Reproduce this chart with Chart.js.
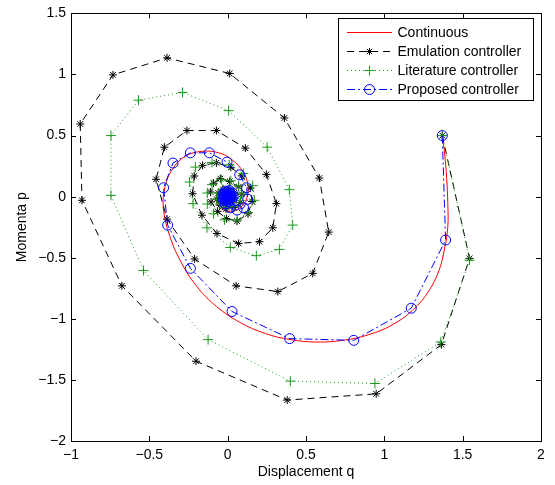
<!DOCTYPE html>
<html>
<head>
<meta charset="utf-8">
<script src="https://cdn.jsdelivr.net/npm/chart.js@4.4.1/dist/chart.umd.min.js"></script>
<style>
  html, body { margin: 0; background: #fff; }
</style>
</head>
<body>
<canvas id="c" width="555" height="485"></canvas>
<script>
// ---- data ----
const contQ = [1.37, 1.385, 1.398, 1.405, 1.405, 1.385, 1.35, 1.28, 1.18, 1.05, 0.9, 0.74, 0.57, 0.40, 0.24, 0.08, -0.07, -0.2, -0.3, -0.37, -0.41, -0.40, -0.35, -0.27, -0.17, -0.06, 0.03, 0.1, 0.13, 0.12, 0.08, 0.02, -0.04, -0.07, -0.07, -0.04, 0, 0.03, 0.04, 0.02, 0, -0.02, -0.01, 0];
const contP = [0.5, 0.35, 0.15, -0.05, -0.25, -0.42, -0.6, -0.78, -0.93, -1.05, -1.13, -1.175, -1.19, -1.17, -1.12, -1.03, -0.9, -0.73, -0.53, -0.32, -0.1, 0.08, 0.23, 0.33, 0.37, 0.36, 0.3, 0.2, 0.09, -0.02, -0.09, -0.12, -0.1, -0.05, 0.01, 0.05, 0.06, 0.04, 0, -0.03, -0.03, -0.01, 0.01, 0];

const emuQ = [1.37, 1.544, 1.364, 0.948, 0.38, -0.202, -0.675, -0.93, -0.941, -0.732, -0.387, 0.013, 0.362, 0.585, 0.645, 0.543, 0.32, 0.054, -0.211, -0.387, -0.457, -0.404, -0.26, -0.072, 0.113, 0.247, 0.311, 0.288, 0.203, 0.07, -0.068, -0.164, -0.224, -0.213, -0.16, -0.072, 0.02, 0.09, 0.145, 0.156, 0.13, 0.06, -0.008, -0.064, -0.106, -0.11, -0.09, -0.047, 0.013, 0.07, 0.09, 0.08, 0.04, -0.01, -0.05, -0.07, -0.06, -0.03, 0.01, 0.04, 0.045, 0.03, 0, -0.025, -0.035, -0.025, 0, 0.02, 0.02, 0.005, -0.01, -0.005, 0];
const emuP = [0.5, -0.505, -1.211, -1.614, -1.665, -1.347, -0.73, -0.03, 0.595, 0.997, 1.136, 1.008, 0.644, 0.152, -0.29, -0.628, -0.777, -0.73, -0.51, -0.184, 0.142, 0.405, 0.541, 0.541, 0.397, 0.182, -0.057, -0.255, -0.369, -0.383, -0.302, -0.152, 0.024, 0.169, 0.256, 0.277, 0.24, 0.17, 0.07, -0.04, -0.14, -0.2, -0.18, -0.12, -0.043, 0.038, 0.11, 0.147, 0.125, 0.08, 0.02, -0.05, -0.09, -0.1, -0.07, -0.02, 0.03, 0.06, 0.06, 0.03, -0.01, -0.04, -0.05, -0.035, -0.005, 0.02, 0.03, 0.015, -0.005, -0.02, -0.01, 0.005, 0];

const litQ = [1.37, 1.544, 1.36, 0.94, 0.40, -0.125, -0.537, -0.745, -0.745, -0.569, -0.288, 0.006, 0.252, 0.394, 0.415, 0.33, 0.183, 0.017, -0.132, -0.221, -0.243, -0.206, -0.1, 0.01, 0.1, 0.16, 0.17, 0.13, 0.06, -0.02, -0.09, -0.13, -0.13, -0.1, -0.04, 0.02, 0.07, 0.09, 0.08, 0.04, -0.01, -0.05, -0.07, -0.06, -0.03, 0.01, 0.04, 0.04, 0.02, -0.01, -0.03, -0.03, -0.01, 0.01, 0.02, 0.01, 0];
const litP = [0.5, -0.52, -1.19, -1.529, -1.51, -1.17, -0.605, 0.011, 0.5, 0.79, 0.853, 0.704, 0.405, 0.057, -0.233, -0.432, -0.483, -0.416, -0.255, -0.057, 0.12, 0.242, 0.28, 0.26, 0.19, 0.09, -0.03, -0.13, -0.19, -0.19, -0.14, -0.06, 0.03, 0.1, 0.14, 0.13, 0.09, 0.03, -0.03, -0.08, -0.09, -0.06, -0.02, 0.03, 0.06, 0.06, 0.03, -0.01, -0.04, -0.04, -0.02, 0.01, 0.03, 0.02, 0, -0.01, 0];

const propQ = [1.37, 1.391, 1.172, 0.805, 0.396, 0.028, -0.238, -0.383, -0.409, -0.349, -0.238, -0.117, -0.004, 0.077, 0.12, 0.128, 0.102, 0.06, 0.017, -0.015, -0.03, -0.03, -0.015, 0.01, 0.03, 0.035, 0.025, 0.005, -0.015, -0.025, -0.025, -0.015, 0, 0.015, 0.022, 0.02, 0.01, -0.005, -0.015, -0.018, -0.012, 0, 0.01, 0.013, 0.008, 0, -0.008, -0.008, -0.003, 0.004, 0.005, 0.001, -0.002, 0];
const propP = [0.5, -0.355, -0.913, -1.176, -1.162, -0.94, -0.587, -0.233, 0.073, 0.275, 0.359, 0.359, 0.283, 0.179, 0.073, -0.021, -0.092, -0.11, -0.092, -0.06, -0.02, 0.02, 0.045, 0.05, 0.03, 0, -0.028, -0.04, -0.035, -0.015, 0.01, 0.03, 0.038, 0.03, 0.01, -0.01, -0.026, -0.03, -0.022, -0.005, 0.012, 0.02, 0.017, 0.005, -0.008, -0.013, -0.009, 0.002, 0.008, 0.007, 0, -0.004, -0.002, 0];

const xTicks = [-1, -0.5, 0, 0.5, 1, 1.5, 2];
const yTicks = [-2, -1.5, -1, -0.5, 0, 0.5, 1, 1.5];
const seriesNames = ['Continuous', 'Emulation controller', 'Literature controller', 'Proposed controller'];

const FONT = '"Liberation Sans", Arial, sans-serif';
const pts = (qs, ps) => qs.map((q, i) => ({ x: q, y: ps[i] }));
const fmt = v => (v < 0 ? '\u2212' + String(-v) : String(v));

const styles = [
  { color: '#ff0000', dash: [], marker: null },
  { color: '#000000', dash: [7, 5], marker: 'star' },
  { color: '#1a9a1a', dash: [1, 3], marker: 'cross' },
  { color: '#0000ff', dash: [8, 3, 2, 3], marker: 'circle' },
];

function drawMarker(ctx, kind, x, y, r, color) {
  ctx.save();
  ctx.setLineDash([]);
  ctx.strokeStyle = color;
  ctx.lineWidth = 1;
  ctx.beginPath();
  if (kind === 'circle') {
    ctx.arc(x, y, r, 0, Math.PI * 2);
  } else if (kind === 'cross') {
    ctx.moveTo(x - r, y); ctx.lineTo(x + r, y);
    ctx.moveTo(x, y - r); ctx.lineTo(x, y + r);
  } else if (kind === 'star') {
    const d = r * 0.75;
    ctx.moveTo(x - r, y); ctx.lineTo(x + r, y);
    ctx.moveTo(x, y - r); ctx.lineTo(x, y + r);
    ctx.moveTo(x - d, y - d); ctx.lineTo(x + d, y + d);
    ctx.moveTo(x - d, y + d); ctx.lineTo(x + d, y - d);
  }
  ctx.stroke();
  ctx.restore();
}

// box, inward ticks and the boxed legend, MATLAB style
const frame = {
  id: 'frame',
  afterDraw(chart) {
    const { ctx, chartArea: a, scales } = chart;
    ctx.save();
    ctx.strokeStyle = '#000';
    ctx.lineWidth = 1;
    ctx.setLineDash([]);
    ctx.beginPath();
    xTicks.forEach(v => {
      const px = Math.round(scales.x.getPixelForValue(v)) + 0.5;
      ctx.moveTo(px, a.bottom); ctx.lineTo(px, a.bottom - 5);
      ctx.moveTo(px, a.top); ctx.lineTo(px, a.top + 5);
    });
    yTicks.forEach(v => {
      const py = Math.round(scales.y.getPixelForValue(v)) + 0.5;
      ctx.moveTo(a.left, py); ctx.lineTo(a.left + 5, py);
      ctx.moveTo(a.right, py); ctx.lineTo(a.right - 5, py);
    });
    ctx.stroke();
    ctx.strokeRect(Math.round(a.left) + 0.5, Math.round(a.top) + 0.5,
      Math.round(a.right - a.left), Math.round(a.bottom - a.top));

    // legend
    const lx = 338.5, ly = 18.5, lw = 195, lh = 82;
    ctx.fillStyle = '#fff';
    ctx.fillRect(lx, ly, lw, lh);
    ctx.strokeStyle = '#000';
    ctx.strokeRect(lx, ly, lw, lh);
    ctx.font = '14px ' + FONT;
    ctx.textBaseline = 'middle';
    seriesNames.forEach((name, i) => {
      const yy = Math.round(31.7 + i * 19.2) + 0.5;
      const s = styles[i];
      ctx.save();
      ctx.lineWidth = 1;
      ctx.strokeStyle = s.color;
      ctx.setLineDash(s.dash);
      ctx.beginPath();
      ctx.moveTo(347, yy); ctx.lineTo(392, yy);
      ctx.stroke();
      ctx.restore();
      if (s.marker) drawMarker(ctx, s.marker, 369.5, yy, s.marker === 'star' ? 3.5 : 5, s.color);
      ctx.fillStyle = '#000';
      ctx.fillText(name, 397.5, yy + 0.5);
    });
    ctx.restore();
  }
};

const data = {
  datasets: [
    {
      label: seriesNames[0], data: pts(contQ, contP),
      borderColor: styles[0].color, borderWidth: 1, tension: 0.4,
      pointRadius: 0, showLine: true, order: 3,
    },
    {
      label: seriesNames[1], data: pts(emuQ, emuP),
      borderColor: styles[1].color, borderWidth: 1, borderDash: styles[1].dash,
      pointStyle: 'star', pointRadius: 4, pointBorderColor: styles[1].color,
      pointBorderWidth: 1, showLine: true, order: 2,
    },
    {
      label: seriesNames[2], data: pts(litQ, litP),
      borderColor: styles[2].color, borderWidth: 1, borderDash: styles[2].dash,
      pointStyle: 'cross', pointRadius: 5, pointBorderColor: styles[2].color,
      pointBorderWidth: 1, showLine: true, order: 1,
    },
    {
      label: seriesNames[3], data: pts(propQ, propP),
      borderColor: styles[3].color, borderWidth: 1, borderDash: styles[3].dash,
      pointStyle: 'circle', pointRadius: 5, pointBorderColor: styles[3].color,
      pointBackgroundColor: 'rgba(0,0,0,0)', pointBorderWidth: 1,
      showLine: true, order: 0,
    },
  ],
};

const tickFont = { family: FONT, size: 14 };

const config = {
  type: 'scatter',
  data,
  options: {
    responsive: false,
    animation: false,
    layout: { padding: { top: 11, right: 14, left: 0, bottom: 0 } },
    plugins: {
      legend: { display: false },
      tooltip: { enabled: false },
    },
    scales: {
      x: {
        type: 'linear', min: -1, max: 2,
        afterBuildTicks: s => { s.ticks = xTicks.map(v => ({ value: v })); },
        afterFit: s => { s.height = 44; },
        grid: { display: false, drawTicks: false },
        border: { display: false },
        ticks: { color: '#000', font: tickFont, padding: 6, maxRotation: 0, callback: fmt },
        title: { display: true, text: 'Displacement q', color: '#000', font: tickFont, padding: { top: 0 } },
      },
      y: {
        type: 'linear', min: -2, max: 1.5,
        afterBuildTicks: s => { s.ticks = yTicks.map(v => ({ value: v })); },
        afterFit: s => { s.width = 71; },
        grid: { display: false, drawTicks: false },
        border: { display: false },
        ticks: { color: '#000', font: tickFont, padding: 5, callback: fmt },
        title: { display: true, text: 'Momenta p', color: '#000', font: tickFont, padding: { top: 14, bottom: 0 } },
      },
    },
  },
  plugins: [frame],
};

new Chart(document.getElementById('c'), config);
</script>
</body>
</html>
